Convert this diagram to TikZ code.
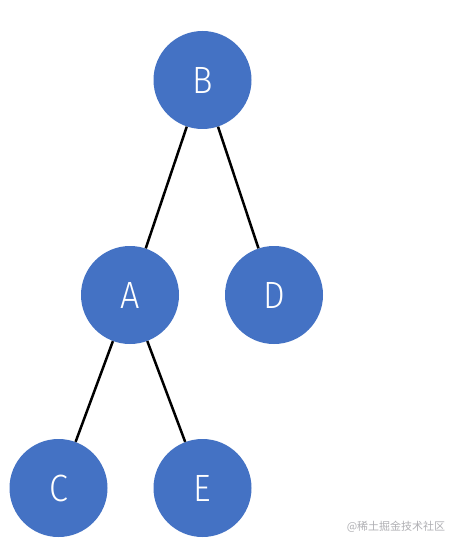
\documentclass[tikz,border=0pt]{standalone}
\usepackage{fontspec}
\setmainfont{Fira Sans Light}[FakeStretch=0.9]
\newfontfamily\cjk{Noto Sans CJK SC}
\definecolor{nodeblue}{HTML}{4472C4}
\definecolor{wmgray}{HTML}{B0B0B4}
\begin{document}
\begin{tikzpicture}[x=1pt,y=-1pt,
  treenode/.style={circle,fill=nodeblue,draw=none,minimum size=98pt,inner sep=0pt,
    text=white,font=\fontsize{38}{38}\selectfont},
  edge/.style={draw=black,line width=2.5pt}]
\useasboundingbox (0,0) rectangle (452,548);
\fill[white] (0,0) rectangle (452,548);
\node[treenode] (B) at (202.5,80) {B};
\node[treenode] (A) at (130,295) {A};
\node[treenode] (D) at (274,295) {D};
\node[treenode] (C) at (58.5,488) {C};
\node[treenode] (E) at (202.5,488) {E};
\draw[edge] (B) -- (A);
\draw[edge] (B) -- (D);
\draw[edge] (A) -- (C);
\draw[edge] (A) -- (E);
\node[text=wmgray,font=\cjk\fontsize{11}{11}\selectfont,anchor=center] (wm) at (396,527) {@稀土掘金技术社区};
\end{tikzpicture}
\end{document}
